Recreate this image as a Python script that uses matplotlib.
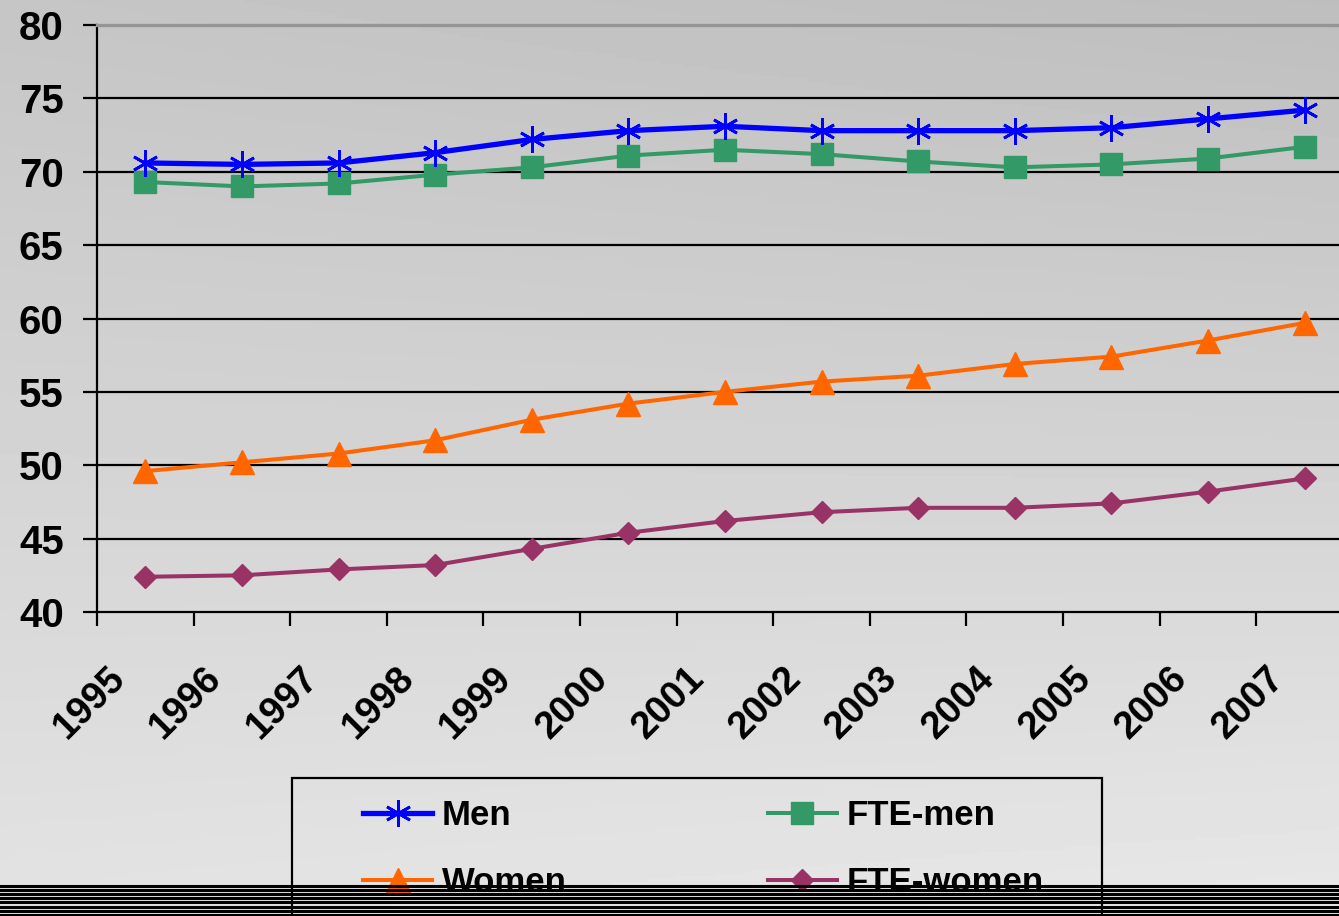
import numpy as np
import matplotlib
matplotlib.use("Agg")
import matplotlib.pyplot as plt
from matplotlib.lines import Line2D
from matplotlib.patches import Rectangle
from matplotlib.transforms import ScaledTranslation, blended_transform_factory

years = ["1995","1996","1997","1998","1999","2000","2001","2002","2003","2004","2005","2006","2007"]
men = [70.6,70.5,70.6,71.3,72.2,72.8,73.1,72.8,72.8,72.8,73.0,73.6,74.2]
fte_men = [69.3,69.0,69.2,69.8,70.3,71.1,71.5,71.2,70.7,70.3,70.5,70.9,71.7]
women = [49.6,50.2,50.8,51.7,53.1,54.2,55.0,55.7,56.1,56.9,57.4,58.5,59.7]
fte_women = [42.4,42.5,42.9,43.2,44.3,45.4,46.2,46.8,47.1,47.1,47.4,48.2,49.1]
yticks = [40,45,50,55,60,65,70,75,80]

plt.rcParams['font.family'] = ['Liberation Sans', 'DejaVu Sans']

W, H = 1339, 916
fig = plt.figure(figsize=(W/100, H/100), dpi=100)

# gray gradient background, darker at the top right
bg = fig.add_axes([0, 0, 1, 1], zorder=-10)
gx, gy = np.meshgrid(np.linspace(0, 1, 300), np.linspace(0, 1, 300))
shade = 0.775 + 0.135*gy - 0.03*gx*(1-gy) - 0.02*(1-gx)*gy
bg.imshow(shade, cmap="gray", vmin=0, vmax=1, extent=[0, 1, 0, 1], aspect="auto", origin="upper")
bg.axis("off")

ax = fig.add_axes([97/W, 1-612/H, 13*96.6/W, 587/H])
ax.patch.set_alpha(0)
x = np.arange(len(years))

l_men, = ax.plot(x, men, color="#0000FF", lw=3.8, marker=(6, 2, 0), ms=19, mew=2, label="Men", zorder=5)
l_fm, = ax.plot(x, fte_men, color="#339966", lw=2.9, marker="s", ms=16, label="FTE-men", zorder=4)
l_w, = ax.plot(x, women, color="#FF6600", lw=2.9, marker="^", ms=17, label="Women", zorder=4)
l_fw, = ax.plot(x, fte_women, color="#993366", lw=2.9, marker="D", ms=11, label="FTE-women", zorder=4)

ax.set_xlim(-0.5, len(years)-0.5)
ax.set_ylim(40, 80)
ax.set_yticks(yticks)
ax.set_yticklabels([str(v) for v in yticks], fontsize=29, fontweight="bold")
for v in yticks[1:-1]:
    ax.axhline(v, color="black", lw=1.6, zorder=1)

ax.set_xticks(np.arange(len(years)+1)-0.5)
ax.set_xticklabels([])
ax.tick_params(axis="both", which="major", length=10, width=1.6, direction="out", color="black")
ax.tick_params(axis="y", pad=14)

# rotated year labels
trans = blended_transform_factory(ax.transData, ax.transAxes) + ScaledTranslation(-0.26, -0.61, fig.dpi_scale_trans)
for i, yr in enumerate(years):
    ax.text(i, 0, yr, transform=trans, fontsize=27.5, fontweight="bold", rotation=45,
            ha="right", va="center", rotation_mode="anchor", clip_on=False)

ax.spines["right"].set_visible(False)
ax.spines["top"].set_color("#959595")
ax.spines["top"].set_linewidth(2.4)
ax.spines["left"].set_linewidth(1.6)
ax.spines["bottom"].set_linewidth(1.6)

# legend box (runs off the bottom edge)
fig.add_artist(Rectangle((292/W, -0.05), (1102-292)/W, 0.05 + 1-778/H, transform=fig.transFigure,
                         fill=False, edgecolor="black", lw=1.6, zorder=3))
fig.legend([l_men, l_w, l_fm, l_fw], ["Men", "Women", "FTE-men", "FTE-women"],
           loc="upper left", bbox_to_anchor=(363/W, 1-799/H), ncol=2, frameon=False,
           prop={"weight": "bold", "size": 25},
           handlelength=2.0, handletextpad=0.26, columnspacing=5.8, labelspacing=0.98,
           borderpad=0, borderaxespad=0)

# striped band at the bottom
for k in range(8):
    yy = (H - 886 - k*4.1) / H
    fig.add_artist(Line2D([0, 1], [yy, yy], transform=fig.transFigure, color="black", lw=2.2, zorder=20))

fig.savefig("out.png", dpi=100)
